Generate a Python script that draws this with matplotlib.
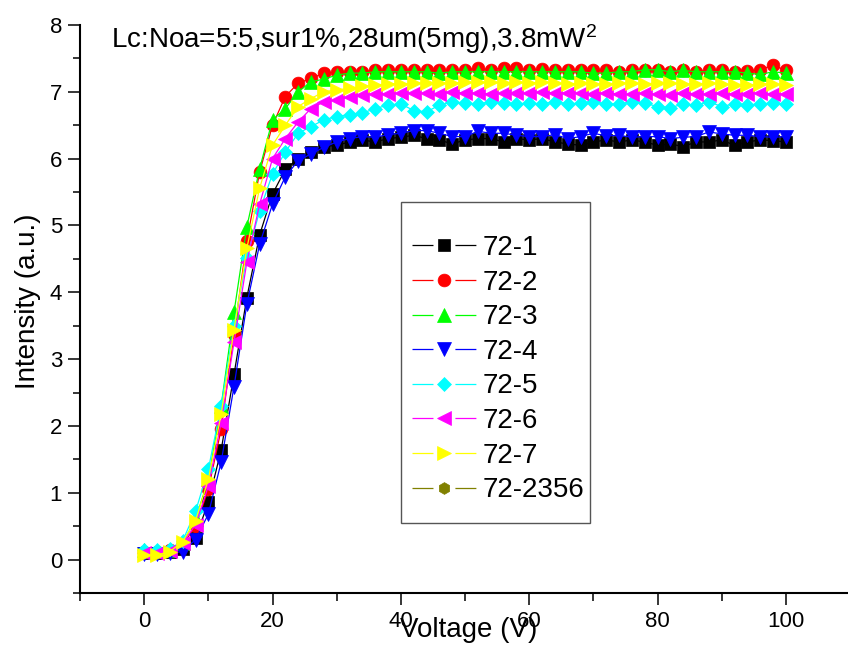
import matplotlib
matplotlib.use("Agg")
import matplotlib.pyplot as plt
from matplotlib.lines import Line2D
from matplotlib.patches import Rectangle
from matplotlib.ticker import MultipleLocator

plt.rcParams['font.family'] = ['Liberation Sans', 'DejaVu Sans']
plt.rcParams['lines.scale_dashes'] = False
plt.rcParams['mathtext.fontset'] = 'custom'
plt.rcParams['mathtext.rm'] = 'Liberation Sans'
plt.rcParams['mathtext.it'] = 'Liberation Sans:italic'
plt.rcParams['mathtext.bf'] = 'Liberation Sans:bold'

voltage = list(range(0, 101, 2))

s72_1 = [0.10, 0.10, 0.12, 0.16, 0.32, 0.86, 1.64, 2.77, 3.92, 4.86, 5.47, 5.84, 6.00, 6.10, 6.18,
         6.20, 6.25, 6.28, 6.25, 6.30, 6.32, 6.35, 6.30, 6.28, 6.22, 6.28, 6.30, 6.30, 6.25, 6.30,
         6.28, 6.30, 6.25, 6.22, 6.20, 6.25, 6.28, 6.25, 6.28, 6.25, 6.20, 6.22, 6.18, 6.25, 6.25,
         6.28, 6.20, 6.25, 6.28, 6.27, 6.25]
s72_2 = [0.12, 0.12, 0.14, 0.22, 0.50, 1.05, 1.95, 3.37, 4.77, 5.80, 6.50, 6.93, 7.13, 7.20, 7.28,
         7.29, 7.30, 7.30, 7.32, 7.32, 7.33, 7.33, 7.32, 7.33, 7.32, 7.33, 7.35, 7.33, 7.36, 7.35,
         7.33, 7.34, 7.33, 7.32, 7.33, 7.32, 7.33, 7.30, 7.32, 7.33, 7.32, 7.30, 7.33, 7.30, 7.32,
         7.33, 7.30, 7.31, 7.33, 7.40, 7.32]
s72_3 = [0.14, 0.13, 0.15, 0.25, 0.60, 1.20, 2.30, 3.70, 4.98, 5.85, 6.58, 6.75, 7.00, 7.15, 7.19,
         7.25, 7.28, 7.28, 7.30, 7.30, 7.30, 7.30, 7.30, 7.28, 7.30, 7.30, 7.30, 7.30, 7.30, 7.30,
         7.30, 7.30, 7.30, 7.30, 7.30, 7.28, 7.28, 7.30, 7.30, 7.33, 7.33, 7.30, 7.32, 7.30, 7.30,
         7.30, 7.30, 7.28, 7.26, 7.30, 7.28]
s72_4 = [0.08, 0.08, 0.10, 0.12, 0.30, 0.68, 1.46, 2.59, 3.82, 4.72, 5.32, 5.73, 5.97, 6.07, 6.17,
         6.25, 6.30, 6.33, 6.32, 6.36, 6.38, 6.42, 6.42, 6.38, 6.33, 6.33, 6.41, 6.38, 6.38, 6.35,
         6.33, 6.33, 6.36, 6.30, 6.33, 6.38, 6.34, 6.35, 6.32, 6.33, 6.33, 6.30, 6.32, 6.33, 6.40,
         6.37, 6.35, 6.35, 6.33, 6.32, 6.33]
s72_5 = [0.15, 0.14, 0.16, 0.28, 0.72, 1.35, 2.30, 3.50, 4.52, 5.22, 5.77, 6.10, 6.38, 6.48, 6.58,
         6.63, 6.66, 6.68, 6.75, 6.80, 6.82, 6.72, 6.70, 6.80, 6.85, 6.83, 6.82, 6.85, 6.83, 6.82,
         6.83, 6.82, 6.85, 6.82, 6.83, 6.85, 6.82, 6.82, 6.85, 6.83, 6.78, 6.76, 6.82, 6.80, 6.85,
         6.78, 6.82, 6.80, 6.82, 6.83, 6.82]
s72_6 = [0.10, 0.10, 0.13, 0.25, 0.52, 1.10, 2.05, 3.25, 4.45, 5.32, 6.00, 6.30, 6.55, 6.75, 6.85,
         6.88, 6.92, 6.95, 6.97, 6.97, 6.98, 6.98, 6.98, 6.97, 7.00, 6.98, 6.98, 6.97, 6.98, 6.98,
         6.98, 7.00, 6.98, 6.98, 6.98, 6.97, 6.98, 6.97, 6.96, 6.98, 6.96, 6.95, 6.98, 6.97, 6.96,
         6.98, 6.96, 6.97, 6.98, 6.96, 6.97]
s72_7 = [0.07, 0.07, 0.12, 0.27, 0.58, 1.20, 2.18, 3.44, 4.66, 5.56, 6.20, 6.50, 6.78, 6.90, 7.00,
         7.03, 7.05, 7.08, 7.10, 7.12, 7.12, 7.13, 7.13, 7.13, 7.13, 7.14, 7.14, 7.14, 7.13, 7.14,
         7.13, 7.15, 7.13, 7.12, 7.13, 7.12, 7.12, 7.13, 7.13, 7.12, 7.13, 7.13, 7.12, 7.12, 7.13,
         7.12, 7.10, 7.10, 7.12, 7.12, 7.10]
s72_2356 = []

labels = ['72-1', '72-2', '72-3', '72-4', '72-5', '72-6', '72-7', '72-2356']
colors = ['#000000', '#ff0000', '#00ff00', '#0000ff', '#00ffff', '#ff00ff', '#ffff00', '#808000']
markers = ['s', 'o', '^', 'v', 'D', '<', '>', 'h']
msizes = [8.2, 9.2, 9.5, 9.5, 6.8, 9.5, 9.5, 8.5]
series = [s72_1, s72_2, s72_3, s72_4, s72_5, s72_6, s72_7, s72_2356]

fig = plt.figure(figsize=(8.48, 6.52), dpi=100)
ax = fig.add_axes([80 / 848, 59 / 652, 770 / 848, 568 / 652])

for ys, c, m, ms in zip(series, colors, markers, msizes):
    xs = voltage[:len(ys)]
    ax.plot(xs, ys, color=c, lw=0.9, marker=m, ms=ms, mec=c, mew=0.5)

ax.set_xlim(-10, 110)
ax.set_ylim(-0.5, 8)
ax.xaxis.set_minor_locator(MultipleLocator(10))
ax.yaxis.set_minor_locator(MultipleLocator(0.5))
ax.set_xticks([0, 20, 40, 60, 80, 100])
ax.set_xticklabels(['0', '20', '40', '60', '80', '100'])
ax.set_yticks(list(range(0, 9)))
ax.tick_params(which='major', direction='out', length=8.3, width=1.1, labelsize=16, pad=4.5)
ax.tick_params(which='minor', direction='out', length=5.4, width=1.1)
for side in ['top', 'right']:
    ax.spines[side].set_visible(False)
for side in ['left', 'bottom']:
    ax.spines[side].set_linewidth(1.5)

ax.set_xlabel('Voltage (V)', fontsize=20)
ax.xaxis.set_label_coords(0.505, -0.042)
ax.set_ylabel('Intensity (a.u.)', fontsize=20)
ax.yaxis.set_label_coords(-0.0506, 0.513)

fig.text(111 / 848, 1 - 48 / 652, 'Lc:Noa=5:5,sur1%,28um(5mg),3.8mW$^{2}$', fontsize=20, va='baseline')

# legend frame and entries
fig.patches.append(Rectangle((401 / 848, 1 - 523 / 652), (590 - 401) / 848, (523 - 201.7) / 652,
                             transform=fig.transFigure, fill=False, edgecolor='#555555', lw=1.0))
handles = [Line2D([], [], color=c, lw=0.9, ls=(0, (15.1, 15.8)), marker=m, ms=ms, mec=c, mew=0.5)
           for c, m, ms in zip(colors, markers, msizes)]
fig.legend(handles, labels, loc='upper left', bbox_to_anchor=(412 / 848, 1 - 235 / 652),
           frameon=False, fontsize=20, borderpad=0, borderaxespad=0, handlelength=2.3,
           handletextpad=0.25, labelspacing=0.31, handleheight=0.7)

fig.savefig('out.png', dpi=100)
